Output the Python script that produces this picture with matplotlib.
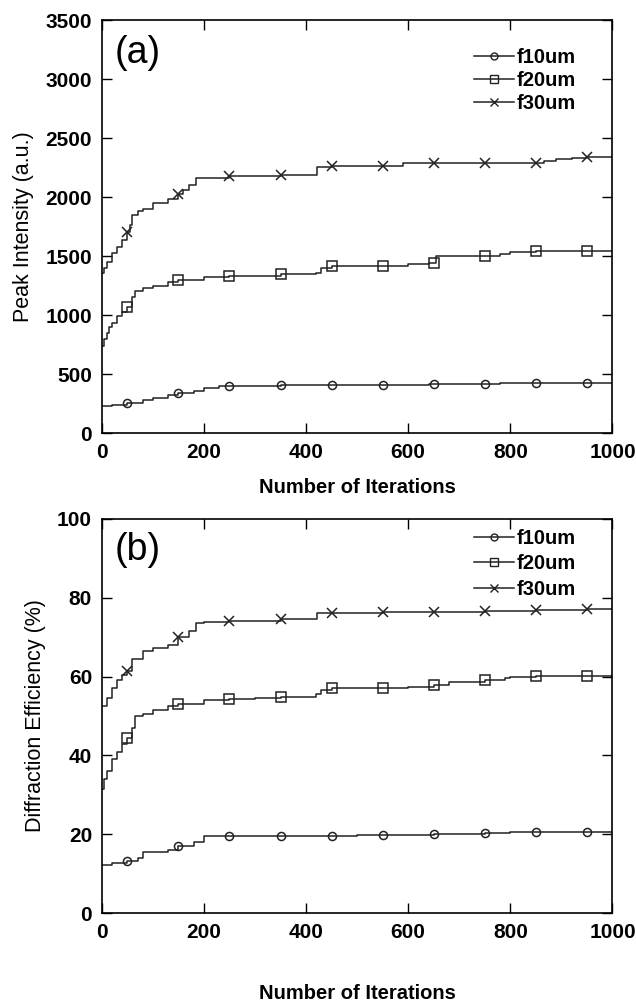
import numpy as np
import matplotlib.pyplot as plt
from matplotlib.lines import Line2D

plt.rcParams['font.family'] = ['Liberation Sans', 'DejaVu Sans']

labels = ['f10um', 'f20um', 'f30um']
markers = ['o', 's', 'x']
mark_x = [50, 150, 250, 350, 450, 550, 650, 750, 850, 950]

# (a) peak intensity, step breakpoints
a10_x = [0, 20, 50, 80, 100, 130, 150, 180, 200, 230, 250, 350, 540, 640, 740, 780, 1000]
a10_y = [232, 240, 255, 280, 300, 320, 340, 360, 385, 395, 400, 405, 410, 412, 415, 425, 428]
a20_x = [0, 5, 10, 15, 20, 30, 40, 50, 60, 65, 80, 100, 130, 150, 200, 250, 300, 350, 420, 430, 450, 600, 640, 655, 780, 800, 850, 1000]
a20_y = [740, 800, 850, 900, 930, 990, 1030, 1070, 1150, 1200, 1230, 1250, 1280, 1295, 1320, 1330, 1335, 1345, 1360, 1400, 1420, 1435, 1445, 1500, 1520, 1535, 1540, 1540]
a30_x = [0, 5, 10, 20, 30, 40, 50, 55, 60, 70, 80, 100, 130, 150, 160, 170, 185, 200, 250, 350, 422, 450, 590, 650, 865, 890, 920, 950, 1000]
a30_y = [1360, 1400, 1450, 1530, 1580, 1640, 1700, 1760, 1850, 1880, 1900, 1950, 1980, 2030, 2060, 2100, 2160, 2165, 2175, 2190, 2255, 2260, 2285, 2290, 2310, 2320, 2335, 2340, 2340]

# (b) diffraction efficiency, step breakpoints
b10_x = [0, 20, 50, 70, 80, 130, 150, 180, 200, 450, 500, 650, 750, 800, 1000]
b10_y = [12.3, 12.8, 13.3, 14.0, 15.5, 16.0, 17.0, 18.0, 19.5, 19.5, 19.8, 20.0, 20.3, 20.6, 20.7]
b20_x = [0, 5, 10, 20, 30, 40, 50, 60, 65, 80, 100, 130, 150, 200, 250, 300, 350, 420, 430, 450, 600, 650, 680, 750, 790, 800, 850, 1000]
b20_y = [31.5, 34.0, 36.0, 39.0, 41.0, 43.0, 44.5, 47.0, 50.0, 50.5, 51.5, 52.5, 53.0, 54.0, 54.2, 54.5, 54.8, 55.5, 56.5, 57.0, 57.3, 57.8, 58.5, 59.0, 59.5, 60.0, 60.2, 60.3]
b30_x = [0, 10, 20, 30, 40, 50, 60, 80, 100, 130, 150, 170, 185, 200, 250, 350, 422, 550, 750, 850, 950, 1000]
b30_y = [52.5, 54.5, 57.0, 59.0, 60.5, 61.5, 64.5, 66.5, 67.3, 68.0, 70.0, 71.5, 73.5, 73.8, 74.0, 74.5, 76.0, 76.3, 76.5, 76.8, 77.2, 77.3]

fig = plt.figure(figsize=(6.36, 10.07), dpi=100)
ax1 = fig.add_axes([0.160, 0.570, 0.803, 0.410])
ax2 = fig.add_axes([0.160, 0.093, 0.803, 0.392])

col = '#222222'
msizes = {'o': 5.8, 's': 6.5, 'x': 7.2}


def draw(ax, series, ylim, yticks, ylabel, tag, leg_y, leg_sp):
    for (sx, sy), m, lab in zip(series, markers, labels):
        sx = np.array(sx)
        sy = np.array(sy)
        ax.step(sx, sy, where='post', color=col, lw=1.1)
        idx = np.searchsorted(sx, mark_x, side='right') - 1
        ax.plot(mark_x, sy[idx], ls='none', marker=m, ms=msizes[m], mfc='none',
                mec=col, mew=1.1)
    handles = [Line2D([], [], color=col, lw=1.1, marker=m, mfc='none', mec=col,
                      ms=(5 if m == 'o' else 6), mew=1.0) for m in markers]
    ax.legend(handles, labels, loc='upper right', frameon=False,
              handlelength=2.0, handletextpad=0.1, labelspacing=leg_sp,
              prop={'size': 14.5, 'weight': 'bold'}, bbox_to_anchor=(0.955, leg_y),
              borderaxespad=0.3)
    ax.set_xlim(0, 1000)
    ax.set_ylim(*ylim)
    ax.set_xticks([0, 200, 400, 600, 800, 1000])
    ax.set_yticks(yticks)
    ax.tick_params(direction='in', top=True, right=True, length=7, width=1,
                   labelsize=15, pad=7)
    for t in ax.get_xticklabels() + ax.get_yticklabels():
        t.set_fontweight('bold')
    for s in ax.spines.values():
        s.set_linewidth(1.2)
    ax.set_xlabel('Number of Iterations', fontsize=14.5, fontweight='bold', labelpad=12)
    ax.set_ylabel(ylabel, fontsize=15.5, labelpad=8)
    ax.text(0.025, 0.965, tag, transform=ax.transAxes, fontsize=27, va='top', ha='left')


draw(ax1, [(a10_x, a10_y), (a20_x, a20_y), (a30_x, a30_y)], (0, 3500),
     [0, 500, 1000, 1500, 2000, 2500, 3000, 3500], 'Peak Intensity (a.u.)', '(a)',
     0.966, 0.2)
draw(ax2, [(b10_x, b10_y), (b20_x, b20_y), (b30_x, b30_y)], (0, 100),
     [0, 20, 40, 60, 80, 100], 'Diffraction Efficiency (%)', '(b)',
     1.01, 0.32)
ax2.xaxis.labelpad = 30

fig.savefig('out.png', dpi=100)
